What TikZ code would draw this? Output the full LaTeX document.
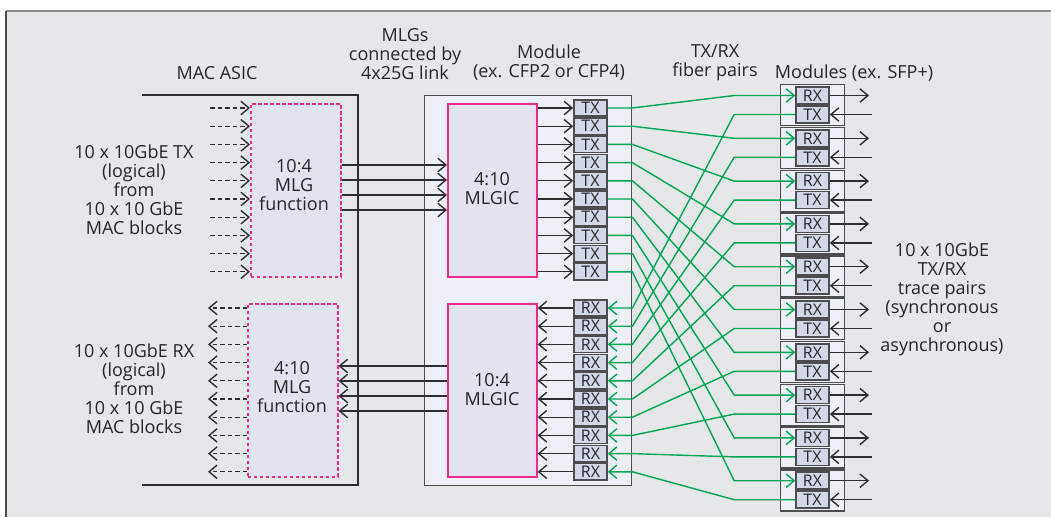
\documentclass[tikz,border=0pt]{standalone}
\usepackage{fontspec}
\setmainfont{Open Sans}
\usetikzlibrary{arrows.meta,calc}
\definecolor{bggray}{HTML}{E6E7E8}
\definecolor{modfill}{HTML}{EEF0F7}
\definecolor{icfill}{HTML}{E1E4EF}
\definecolor{smallfill}{HTML}{D2D8E8}
\definecolor{boxdraw}{HTML}{4D4D4F}
\definecolor{pinkc}{HTML}{EC2A8A}
\definecolor{greenc}{HTML}{00A651}
\definecolor{txt}{HTML}{262628}
\definecolor{linec}{HTML}{2E2E30}
\begin{document}
\begin{tikzpicture}[x=1pt,y=-1pt,
  lbl/.style={font=\fontsize{18}{19}\selectfont, align=center, text=txt, inner sep=0pt},
  smallbox/.style={draw=boxdraw, line width=1.6pt, fill=smallfill, minimum width=33pt,
    minimum height=16.5pt, inner sep=0pt, font=\fontsize{16}{16}\selectfont, text=txt},
  sfpbox/.style={draw=boxdraw, line width=1.3pt, fill=modfill, minimum width=64pt,
    minimum height=41pt, inner sep=0pt, anchor=north west},
  tip/.style={-{Straight Barb[angle'=80,length=8pt,line width=1.4pt]}},
  arr/.style={draw=linec, line width=1.3pt, tip},
  darr/.style={arr, dash pattern=on 4.5pt off 3pt},
  garr/.style={draw=greenc, line width=1.4pt, -{Straight Barb[angle'=80,length=8pt,line width=1.4pt]}},
  mlgf/.style={draw=pinkc, line width=1.5pt, dash pattern=on 3.5pt off 2.5pt, fill=icfill,
    minimum width=90pt, minimum height=173pt, anchor=north west, inner sep=0pt},
  mlgic/.style={draw=pinkc, line width=1.7pt, fill=icfill,
    minimum width=89pt, minimum height=173pt, anchor=north west, inner sep=0pt}
]
\useasboundingbox (0,0) rectangle (1051,517);
\fill[white] (0,0) rectangle (1051,517);
\fill[bggray] (6,11) rectangle (1051,517);
\draw[line width=1.6pt, draw=black!45] (6,11) -- (1051,11);
\draw[line width=2pt, draw=black!70] (6,11) -- (6,517);

% MAC ASIC outline
\draw[line width=1.5pt, draw=linec] (142,95) -- (358,95) -- (358,485) -- (142,485);

% CFP module
\node[draw=boxdraw, line width=1.4pt, fill=modfill, minimum width=207pt, minimum height=390pt,
  anchor=north west, inner sep=0pt] (module) at (424,95) {};

% MLG functions
\node[mlgf] (mlgfTX) at (250,103) {};
\node[mlgf] (mlgfRX) at (247,303) {};
\node[lbl] (lblmlgfTX) at (294,185) {10:4\\MLG\\function};
\node[lbl] (lblmlgfRX) at (292,387) {4:10\\MLG\\function};

% MLGICs
\node[mlgic] (icTX) at (447,103) {};
\node[mlgic] (icRX) at (447,303) {};
\node[lbl] (lblicTX) at (492,189) {4:10\\MLGIC};
\node[lbl] (lblicRX) at (492,390) {10:4\\MLGIC};

% titles
\node[lbl] (tMAC) at (217,73) {MAC ASIC};
\node[lbl] (tMLG) at (405,54) {MLGs\\connected by\\4x25G link};
\node[lbl] (tMod) at (549,63) {Module\\(ex. CFP2 or CFP4)};
\node[lbl] (tFib) at (715,63) {TX/RX\\fiber pairs};
\node[lbl] (tSFP) at (854,73) {Modules (ex. SFP+)};
\node[lbl] (tLTX) at (134,190) {10 x 10GbE TX\\(logical)\\from\\10 x 10 GbE\\MAC blocks};
\node[lbl] (tLRX) at (134,389) {10 x 10GbE RX\\(logical)\\from\\10 x 10 GbE\\MAC blocks};
\node[lbl] (tR) at (942,299) {10 x 10GbE\\TX/RX\\trace pairs\\(synchronous\\or\\asynchronous)};

% links MLG function <-> MLGIC
\foreach \k in {0,...,3} {
  \pgfmathsetmacro\ya{165+\k*15}
  \pgfmathsetmacro\yb{366+\k*15}
  \coordinate (la\k) at (mlgfTX.east |- 0,\ya);
  \coordinate (lb\k) at (icRX.west |- 0,\yb);
  \draw[arr] (la\k) -- (la\k -| icTX.west);
  \draw[arr] (lb\k) -- (lb\k -| mlgfRX.east);
}

% CFP TX/RX boxes, dashed inputs
\foreach \i in {1,...,10} {
  \pgfmathsetmacro\y{108+(\i-1)*18.2}
  \pgfmathsetmacro\yr{308+(\i-1)*18.2}
  \node[smallbox] (tx\i) at (590.5,\y) {TX};
  \node[smallbox] (rx\i) at (590.5,\yr) {RX};
  \draw[arr] (icTX.east |- tx\i.west) -- (tx\i.west);
  \draw[arr] (rx\i.west) -- (icRX.east |- rx\i.west);
  \coordinate (dt\i) at (210,\y);
  \coordinate (dr\i) at (mlgfRX.west |- 0,\yr);
  \draw[darr] (dt\i) -- (dt\i -| mlgfTX.west);
  \draw[darr] (dr\i) -- (208,\yr);
}

% SFP modules
\foreach \i in {1,...,10} {
  \pgfmathsetmacro\t{84+(\i-1)*42.8}
  \node[sfpbox] (sfp\i) at (780,\t) {};
  \node[smallbox, minimum height=17pt] (srx\i) at (812.5,\t+11.5) {RX};
  \node[smallbox, minimum height=17pt] (stx\i) at (812.5,\t+30.5) {TX};
  \coordinate (so\i) at (869,\t+11.5);
  \coordinate (si\i) at (872,\t+30.5);
  \draw[arr] (srx\i.east) -- (so\i);
  \draw[arr] (si\i) -- (stx\i.east);
}

% green fibres
\foreach \i in {1,...,10} {
  \draw[garr] (tx\i.east) -- (tx\i.east -| module.east) -- ($(srx\i.west)+(-61,0)$) -- (srx\i.west);
  \draw[garr] (stx\i.west) -- ($(stx\i.west)+(-61,0)$) -- (rx\i.east -| module.east) -- (rx\i.east);
}
\end{tikzpicture}
\end{document}
